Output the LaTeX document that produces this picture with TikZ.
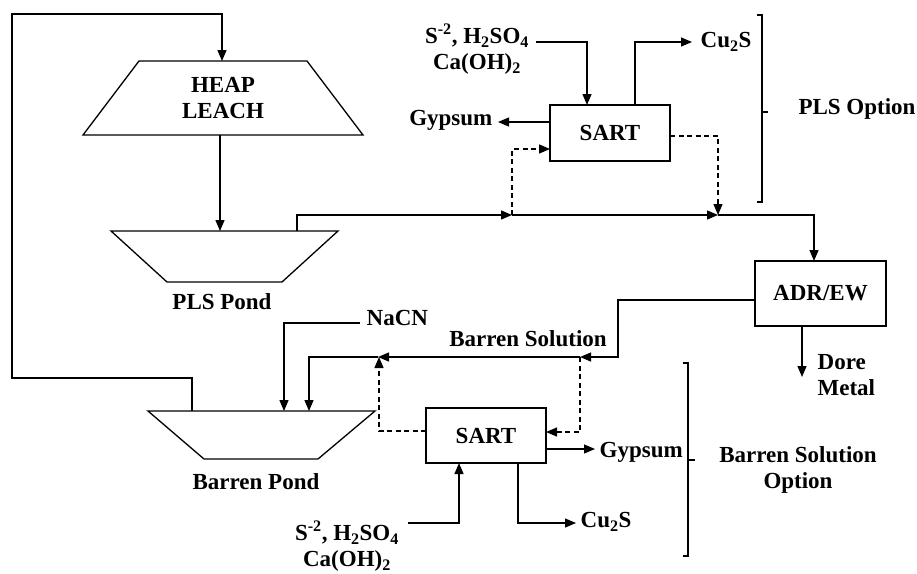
\documentclass[tikz,border=0pt]{standalone}
\usepackage{fontspec}
\setmainfont{Liberation Serif}
\usetikzlibrary{arrows.meta}
\newcommand\lbf{\bfseries\fontsize{23}{26}\selectfont}
\begin{document}
\begin{tikzpicture}[x=1pt,y=-1pt,line width=1.3pt,
  arr/.style={-{Triangle[length=11pt,width=9pt]}},
  dsh/.style={dash pattern=on 5pt off 3.5pt},
  lbl/.style={font=\lbf,align=center,inner sep=0pt},
  procbox/.style={draw,font=\lbf,inner sep=0pt,minimum width=120pt,minimum height=56pt}]
\useasboundingbox (0,0) rectangle (917,573);
% trapezoids
\draw (139,61) -- (307,61) -- (363,135) -- (83,135) -- cycle;
\node[lbl] (heap) at (223,98) {HEAP\\LEACH};
\draw (111,231) -- (338,231) -- (282,282) -- (167,282) -- cycle;
\node[lbl] (plsl) at (222,302) {PLS Pond};
\draw (148,411) -- (375,411) -- (318,459) -- (204,459) -- cycle;
\node[lbl] (bpl) at (256,482) {Barren Pond};
\coordinate (heapIn) at (222,61);
\coordinate (heapOut) at (220,135);
\coordinate (plsIn) at (220,231);
\coordinate (plsOut) at (297,231);
\coordinate (bpOut) at (192,411);
\coordinate (bpIn1) at (284,411);
\coordinate (bpIn2) at (309,411);
% boxes
\node[procbox] (sart1) at (610,133) {SART};
\node[procbox,minimum width=131pt,minimum height=65pt] (adr) at (820.5,293.5) {ADR/EW};
\node[procbox,minimum height=55pt] (sart2) at (486,435.5) {SART};
% labels
\node[lbl] (f1) at (477,49) {S\textsuperscript{-2}, H\textsubscript{2}SO\textsubscript{4}\\Ca(OH)\textsubscript{2}};
\node[lbl,anchor=west] (cu1) at (700,42) {Cu\textsubscript{2}S};
\node[lbl,anchor=east] (gy1) at (493,120) {Gypsum};
\node[lbl] (plsopt) at (857,109) {PLS Option};
\node[lbl,align=left,anchor=west] (dore) at (817,375) {Dore\\Metal};
\node[lbl,anchor=west] (nacn) at (366,318) {NaCN};
\node[lbl] (bsol) at (528,339) {Barren Solution};
\node[lbl,anchor=west] (gy2) at (599,452) {Gypsum};
\node[lbl,anchor=west] (cu2) at (580,522) {Cu\textsubscript{2}S};
\node[lbl] (f2) at (347,546) {S\textsuperscript{-2}, H\textsubscript{2}SO\textsubscript{4}\\Ca(OH)\textsubscript{2}};
\node[lbl] (bsopt) at (798,470) {Barren Solution\\Option};
% junctions
\coordinate (j1) at (512,215);
\coordinate (j2) at (718,215);
\coordinate (j3) at (580,357);
\coordinate (j4) at (378,357);
% loop
\draw[arr] (bpOut) -- (192,378) -- (12,378) -- (12,14) -- (222,14) -- (heapIn);
\draw[arr] (heapOut) -- (plsIn);
% PLS line
\draw[arr] (plsOut) -- (297,215) -- (j1);
\draw[arr] (j1) -- (j2);
\draw[arr] (j2) -- (814,215) -- (814,261);
% top SART
\draw[arr,dsh] (j1) -- (512,149) -- (550,149);
\draw[arr,dsh] (670,136) -- (718,136) -- (j2);
\draw[arr] (536,42) -- (587,42) -- (587,105);
\draw[arr] (635,105) -- (635,42) -- (692,42);
\draw[arr] (550,122) -- (498,122);
\draw (757,15) -- (762,15) -- (762,202) -- (757,202) (762,112) -- (768,112);
% ADR out
\draw[arr] (802,326) -- (802,377);
% barren line
\draw[arr] (755,300) -- (618,300) -- (618,357) -- (j3);
\draw[arr] (j3) -- (j4);
\draw[arr] (j4) -- (309,357) -- (bpIn2);
\draw[arr] (360,323) -- (284,323) -- (bpIn1);
% bottom SART
\draw[arr,dsh] (j3) -- (580,432) -- (546,432);
\draw[arr,dsh] (426,431) -- (379,431) -- (379,357);
\draw[arr] (546,449) -- (595,449);
\draw[arr] (408,523) -- (459,523) -- (459,463);
\draw[arr] (518,463) -- (518,523) -- (576,523);
\draw (683,363) -- (688,363) -- (688,556) -- (683,556) (688,460) -- (695,460);
\end{tikzpicture}
\end{document}
